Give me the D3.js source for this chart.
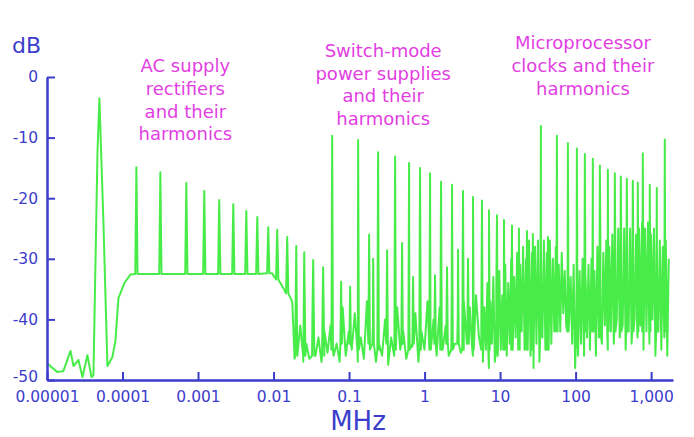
<!DOCTYPE html>
<html lang="en">
<head>
<meta charset="UTF-8">
<title>Conducted emission spectrum</title>
<script src="https://cdn.jsdelivr.net/npm/d3@7"></script>
<style>
  body { margin: 0; background: #fff; }
  svg { display: block; font-family: "DejaVu Sans", sans-serif; }
  .axis path, .axis line { stroke: #3d3dcc; }
  .axis path { stroke-width: 2.5; }
  .axis line { stroke-width: 2; }
  .axis text { fill: #3d3dcc; font-size: 15.5px; font-family: "DejaVu Sans", sans-serif; }
  .note { fill: #e23ee2; font-size: 18px; text-anchor: middle; }
</style>
</head>
<body>
<svg width="694" height="437"></svg>
<script>
// axis ticks
const freqTicks = [1e-5, 1e-4, 1e-3, 1e-2, 1e-1, 1, 10, 100, 1000];
const freqLabels = ["0.00001", "0.0001", "0.001", "0.01", "0.1", "1", "10", "100", "1,000"];
const dbTicks = [0, -10, -20, -30, -40, -50];

// low end of the sweep and the 50 Hz line, [MHz, dB]
const lowTrace = [
  [1.0e-5, -47.2], [1.18e-5, -48.0], [1.38e-5, -48.7], [1.65e-5, -48.5], [2.05e-5, -45.2],
  [2.24e-5, -47.7], [2.61e-5, -46.7], [2.95e-5, -49.5], [3.43e-5, -45.9], [3.88e-5, -49.5],
  [4.12e-5, -49.2], [4.66e-5, -12.5], [4.94e-5, -3.5], [5.59e-5, -24], [6.31e-5, -47.7],
  [7.35e-5, -46.2], [8.06e-5, -43.5], [8.83e-5, -36.5], [1.06e-4, -34], [1.27e-4, -32.6]
];
// end of the rectifier plateau
const plateauTrace = [[9.6e-3, -32.4], [1.345e-2, -34.8], [1.77e-2, -37.1], [1.9e-2, -46.5]];

// rectifier harmonics [MHz, peak dB, base dB]
const acSpikes = [
  [1.527e-4, -14.9, -32.5], [3.17e-4, -15.7, -32.5], [7.0e-4, -17.5, -32.5], [1.21e-3, -18.8, -32.5],
  [1.91e-3, -20.3, -32.5], [2.93e-3, -21.0, -32.5], [4.36e-3, -22.1, -32.5], [6.09e-3, -23.1, -32.5],
  [8.51e-3, -24.8, -32.4], [1.119e-2, -25.2, -33.4], [1.517e-2, -26.4, -35.7], [2.0e-2, -27.9, -46],
  [2.55e-2, -28.9, -46], [3.35e-2, -30.2, -46], [4.54e-2, -31.4, -46]
];
// switch-mode harmonics [MHz, peak dB]
const smpsSpikes = [
  [0.0598, -9.7], [0.1319, -10.4], [0.2426, -12.4], [0.4073, -13.1], [0.6237, -14.2], [0.872, -15.0],
  [1.183, -15.9], [1.653, -17.3], [2.311, -17.8], [3.23, -18.8], [4.38, -19.8], [5.76, -20.4],
  [7.13, -22.0], [9.10, -22.8], [11.26, -23.6], [14.37, -24.5], [17.78, -25.0], [22.7, -25.4],
  [27.2, -25.9], [43.0, -26.4]
];
const smpsMinor = [
  [0.0786, -33.8], [0.1034, -34.6], [0.1845, -26.0], [0.2084, -30], [0.3192, -28.6], [0.504, -27.4],
  [0.705, -33], [1.377, -32.7], [1.984, -31.4], [2.774, -28.5], [3.762, -30]
];
// clock harmonics [MHz, peak dB]
const cpuSpikes = [
  [34.75, -8.1], [56.6, -9.7], [79.1, -10.9], [104, -11.8], [132.7, -12.7], [169.3, -13.5],
  [209.6, -14.6], [267.4, -15.3], [331, -15.9], [397, -16.4], [477, -16.8], [573, -17.1],
  [667, -17.4], [777, -12.6], [961, -17.8], [1190, -18.3], [1518, -10.3]
];

// sweep noise, dB readings spread evenly (log) over each band
const smpsBand = [0.0206, 5.26];
const smpsNoise = [
  -46, -41, -47, -44, -46.5, -40, -46, -43, -47, -42, -45.5, -41, -46, -44, -47, -38, -46, -42, -45, -39,
  -47, -43, -46.5, -37, -45, -41, -47, -44, -46, -40, -47.5, -43, -46, -38, -45, -42, -46.5, -41, -44.5, -39,
  -47, -42, -45, -37, -44, -40, -46, -38, -45, -41, -46, -36, -44, -39, -45.5, -37, -44, -38, -46, -36, -43
];
const cpuBand = [5.67, 1714];
const cpuNoise = [
  -36, -47, -38, -45, -34, -48, -37, -44, -33, -47,
  -35, -46, -32, -45, -36, -43, -31, -46, -34, -44,
  -30, -45, -33, -43, -29, -44, -31, -42, -28, -45,
  -30, -43, -27, -46, -29, -48, -28, -44, -27, -47,
  -28, -43, -27, -45, -29, -41, -27, -44, -30, -42,
  -28, -40, -31, -42, -29, -39, -32, -41, -30, -40,
  -33, -44, -31, -48, -34, -46, -32, -44, -30, -46,
  -33, -43, -31, -45, -30, -42, -32, -46, -28, -43,
  -27, -44, -29, -41, -27, -45, -28, -42, -26, -44,
  -27, -40, -25, -43, -26, -41, -25, -45, -26, -42,
  -25, -44, -24, -40, -26, -43, -25, -41, -24, -45,
  -25, -42, -24, -44, -26, -40, -25, -46, -26, -42,
  -27, -45, -28, -43, -27, -46, -30
];

const svg = d3.select("svg");
const x = d3.scaleLog().domain([1e-5, 1950]).range([47, 673]);
const y = d3.scaleLinear().domain([-50, 0]).range([380, 77]);

// build the trace
const pts = [...lowTrace, ...plateauTrace];
function addSpikes(list, base, w) {
  list.forEach(s => {
    const b = s[2] !== undefined ? s[2] : base;
    const k = Math.pow(10, w);
    pts.push([s[0] / k, b], [s[0], s[1]], [s[0] * k, b]);
  });
}
addSpikes(acSpikes, -32.5, 0.015);
addSpikes(smpsSpikes, -45, 0.01);
addSpikes(smpsMinor, -44, 0.01);
addSpikes(cpuSpikes, -42, 0.008);
function addNoise(band, vals) {
  const n = vals.length;
  vals.forEach((v, i) => pts.push([band[0] * Math.pow(band[1] / band[0], i / (n - 1)), v]));
}
addNoise(smpsBand, smpsNoise);
addNoise(cpuBand, cpuNoise);
pts.sort((a, b) => a[0] - b[0]);

const line = d3.line().x(d => x(d[0])).y(d => y(d[1]));
svg.append("path")
  .datum(pts)
  .attr("d", line)
  .attr("fill", "none")
  .attr("stroke", "#48ec48")
  .attr("stroke-width", 2)
  .attr("stroke-linejoin", "round");

// axes
svg.append("g")
  .attr("class", "axis")
  .attr("transform", "translate(0,380)")
  .call(d3.axisBottom(x).tickValues(freqTicks).tickFormat((d, i) => freqLabels[i])
    .tickSizeInner(-8).tickSizeOuter(0).tickPadding(11));

const yAxis = svg.append("g")
  .attr("class", "axis")
  .attr("transform", "translate(47,0)")
  .call(d3.axisLeft(y).tickValues(dbTicks).tickFormat(d => String(d))
    .tickSizeInner(-8).tickSizeOuter(0).tickPadding(9));
// bottom label sits just above the frequency labels
yAxis.selectAll(".tick text").filter(d => d === -50).attr("dy", "0.1em");

svg.append("text").attr("x", 12).attr("y", 53)
  .attr("fill", "#3d3dcc").attr("font-size", 22).text("dB");
svg.append("text").attr("x", 358).attr("y", 430).attr("text-anchor", "middle")
  .attr("fill", "#3d3dcc").attr("font-size", 26).text("MHz");

// annotations
const notes = [
  { f: 6.8e-4, db: 0.8, lines: ["AC supply", "rectifiers", "and their", "harmonics"] },
  { f: 0.283, db: 3.3, lines: ["Switch-mode", "power supplies", "and their", "harmonics"] },
  { f: 125, db: 4.6, lines: ["Microprocessor", "clocks and their", "harmonics"] }
];
notes.forEach(n => {
  const t = svg.append("text").attr("class", "note");
  n.lines.forEach((s, i) => {
    t.append("tspan").attr("x", x(n.f)).attr("y", y(n.db) + i * 22.7).text(s);
  });
});
</script>
</body>
</html>
